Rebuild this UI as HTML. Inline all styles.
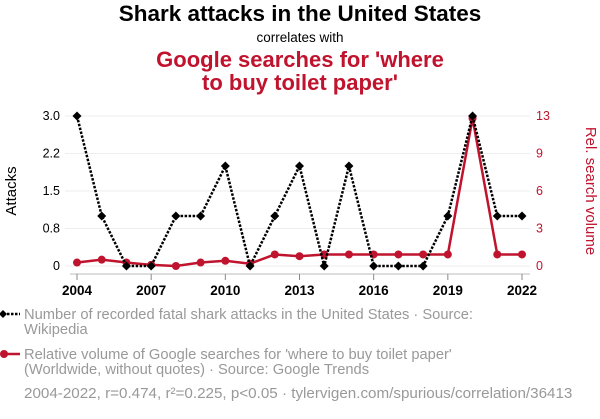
<!DOCTYPE html>
<html><head><meta charset="utf-8"><style>
body{margin:0;width:600px;height:414px;background:#fff;font-family:"Liberation Sans",sans-serif;overflow:hidden}
</style></head><body>
<svg width="600" height="414" xmlns="http://www.w3.org/2000/svg">
<text x="300" y="21" text-anchor="middle" font-size="22.5" font-weight="bold" fill="#000">Shark attacks in the United States</text>
<text x="300" y="42" text-anchor="middle" font-size="13.5" fill="#000">correlates with</text>
<text x="300" y="67" text-anchor="middle" font-size="22" font-weight="bold" fill="#c0132e">Google searches for 'where</text>
<text x="300" y="90" text-anchor="middle" font-size="22" font-weight="bold" fill="#c0132e">to buy toilet paper'</text>
<g id="grid"></g><g id="axes"></g><g id="series"></g>
<text transform="translate(16,191) rotate(-90)" text-anchor="middle" font-size="15" fill="#000">Attacks</text>
<text transform="translate(586,191) rotate(90)" text-anchor="middle" font-size="15" fill="#c0132e">Rel. search volume</text>
<g font-size="14.7" fill="#999">
<line x1="3" y1="314" x2="20" y2="314" stroke="#000" stroke-width="2.5" stroke-dasharray="2.5,1.5"/>
<path d="M3,310 L7,314 L3,318 L-1,314Z" fill="#000"/>
<text x="24" y="319">Number of recorded fatal shark attacks in the United States · Source:</text>
<text x="24" y="334">Wikipedia</text>
<line x1="3" y1="354" x2="20" y2="354" stroke="#c0132e" stroke-width="2.5"/>
<circle cx="4" cy="354" r="4" fill="#c0132e"/>
<text x="24" y="359">Relative volume of Google searches for 'where to buy toilet paper'</text>
<text x="24" y="374">(Worldwide, without quotes) · Source: Google Trends</text>
<text x="24" y="398" font-size="15.2">2004-2022, r=0.474, r²=0.225, p&lt;0.05 · tylervigen.com/spurious/correlation/36413</text>
</g>
</svg>
<script>
const years=[2004,2005,2006,2007,2008,2009,2010,2011,2012,2013,2014,2015,2016,2017,2018,2019,2020,2021,2022];
const sharks=[3,1,0,0,1,1,2,0,1,2,0,2,0,0,0,1,3,1,1];
const google=[0.3,0.55,0.3,0.1,0,0.3,0.45,0.2,1,0.85,1,1,1,1,1,1,12.8,1,1];
const xTicks=[2004,2007,2010,2013,2016,2019,2022];
const leftTicks=[0,0.75,1.5,2.25,3];
const leftLabels=["0","0.8","1.5","2.2","3.0"];
const rightLabels=["0","3","6","9","13"];
const NS="http://www.w3.org/2000/svg";
const x=v=>77+(v-2004)*(445/18);
const yL=v=>266-v/3*150;
const yR=v=>266-v/13*150;
function mk(t,a,p){const e=document.createElementNS(NS,t);for(const k in a)e.setAttribute(k,a[k]);p.appendChild(e);return e;}
const grid=document.getElementById('grid'),axes=document.getElementById('axes'),ser=document.getElementById('series');
leftTicks.forEach((t,i)=>{
 const g=mk('line',{x1:65,x2:530,y1:yL(t),y2:yL(t),stroke:'#eee','stroke-width':1},grid);
 
 const l=mk('text',{x:60,y:yL(t)+4,'text-anchor':'end','font-size':12.5,fill:'#000'},axes);l.textContent=leftLabels[i];
 
 const r=mk('text',{x:536,y:yL(t)+4,'font-size':12.5,fill:'#c0132e'},axes);r.textContent=rightLabels[i];
 
});
mk('line',{x1:70,x2:530,y1:274,y2:274,stroke:'#bbb','stroke-width':1},axes);
xTicks.forEach(t=>{
 mk('line',{x1:x(t),x2:x(t),y1:274,y2:280,stroke:'#888','stroke-width':1},axes);
 const l=mk('text',{x:x(t),y:295,'text-anchor':'middle','font-size':13.5,'font-weight':'bold',fill:'#000'},axes);l.textContent=t;
 
});
const gp=mk('polyline',{points:years.map((y,i)=>x(y)+','+yR(google[i])).join(' '),fill:'none',stroke:'#c0132e','stroke-width':2.5},ser);

years.forEach((y,i)=>{const c=mk('circle',{cx:x(y),cy:yR(google[i]),r:4,fill:'#c0132e'},ser);
 });
const sp=mk('polyline',{points:years.map((y,i)=>x(y)+','+yL(sharks[i])).join(' '),fill:'none',stroke:'#000','stroke-width':2.5,'stroke-dasharray':'2.5,1.5'},ser);

years.forEach((y,i)=>{const cx=x(y),cy=yL(sharks[i]);
 const d=mk('path',{d:`M${cx},${cy-4.5}L${cx+4.5},${cy}L${cx},${cy+4.5}L${cx-4.5},${cy}Z`,fill:'#000'},ser);
 });
</script>
</body></html>
